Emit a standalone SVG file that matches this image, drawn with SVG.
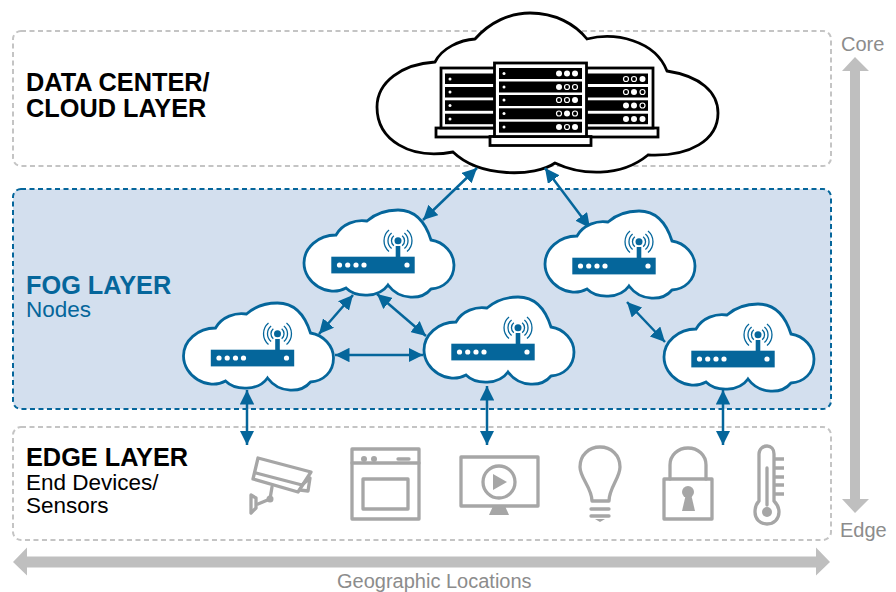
<svg xmlns="http://www.w3.org/2000/svg" width="896" height="592" viewBox="0 0 896 592">
<style>
text{font-family:"Liberation Sans",Arial,sans-serif}
.h{font-weight:bold;font-size:25.300px;fill:#000}
.s{font-size:22.500px;fill:#000}
.g{font-size:20px;fill:#8c8c8c}
.layer{stroke-width:2;stroke-dasharray:5 3.5}
.ln{fill:none;stroke:#a6a6a6;stroke-width:3.300;stroke-linejoin:round;stroke-linecap:round}
.fl{fill:#a6a6a6}
.conn{fill:none;stroke:#05669b;stroke-width:2.500;marker-start:url(#a);marker-end:url(#a)}
.cl{fill:#fff;stroke:#05669b;stroke-width:2.800}
.bar{fill:#000}
.on{fill:#fff}
.off{fill:#000;stroke:#fff;stroke-width:1.200}
</style>
<defs>
<marker id="a" markerUnits="userSpaceOnUse" markerWidth="14.500" markerHeight="14.500" refX="12" refY="6" orient="auto-start-reverse" viewBox="0 0 12 12"><path d="M0 0L12 6L0 12Z" fill="#05669b"/></marker>
<g id="fog">
<path class="cl" d="M32 25C38 14 52 9 63 11C72 3 84 0 94 0C112 0 122 14 127 30C140 32 150 43 150 55C150 69 140 78 127 79C118 90 96 91 84 75C75 88 52 88 42 78C24 88 0 73 0 53C0 38 14 25 32 25Z"/>
<rect x="27.300" y="46.700" width="83.400" height="16.700" fill="#05669b"/>
<rect x="91.700" y="36" width="4.600" height="11" fill="#05669b"/>
<circle cx="94" cy="30.700" r="3.500" fill="#05669b"/>
<g fill="#fff"><circle cx="35.500" cy="55" r="2.600"/><circle cx="43.700" cy="55" r="2.600"/><circle cx="52" cy="55" r="2.600"/><circle cx="60" cy="55" r="2.600"/><circle cx="103" cy="55" r="2.600"/></g>
<g fill="none" stroke="#05669b" stroke-width="1.300"><path d="M89.800 25.700A6.500 6.500 0 0 0 89.800 35.700"/><path d="M87.600 23A10 10 0 0 0 87.600 38.400"/><path d="M85 20A14 14 0 0 0 85 41.400"/><path d="M98.200 25.700A6.500 6.500 0 0 1 98.200 35.700"/><path d="M100.400 23A10 10 0 0 1 100.400 38.400"/><path d="M103 20A14 14 0 0 1 103 41.400"/></g>
</g>
</defs>
<rect class="layer" x="13" y="31" width="818" height="135" rx="8" fill="#fff" stroke="#c4c4c4"/>
<rect class="layer" x="13" y="189" width="818" height="220" rx="8" fill="#d3dfee" stroke="#05669b"/>
<rect class="layer" x="13" y="427" width="818" height="113" rx="8" fill="#fff" stroke="#c4c4c4"/>

<text class="h" x="26" y="91">DATA CENTER/</text>
<text class="h" x="26" y="117">CLOUD LAYER</text>
<text class="h" x="26" y="294" style="fill:#05669b">FOG LAYER</text>
<text class="s" x="26" y="317" style="fill:#05669b">Nodes</text>
<text class="h" x="26" y="466">EDGE LAYER</text>
<text class="s" x="26" y="489.500">End Devices/</text>
<text class="s" x="26" y="512.500">Sensors</text>

<g id="cloud-center">
<path d="M435 62C442 48 460 40 475 39C490 22 510 13 530 13C555 13 575 24 587 39C615 32 655 40 667 71C700 76 718 92 718 113C718 140 690 157 648 155C620 178 580 175 555 163C535 177 480 178 453 152C410 160 377 140 377 107C377 82 402 64 435 62Z" fill="#fff" stroke="#000" stroke-width="2.800"/>
<rect x="436" y="128" width="222" height="9" fill="#fff" stroke="#000" stroke-width="2.800"/>
<rect x="441" y="68" width="212" height="60" fill="#fff" stroke="#000" stroke-width="2.800"/>
<g class="bar"><rect x="445" y="73.500" width="203" height="10.500"/><rect x="445" y="87" width="203" height="10.500"/><rect x="445" y="100.300" width="203" height="10.500"/><rect x="445" y="113.700" width="203" height="10.500"/></g>
<g class="on"><circle cx="450" cy="79" r="1.500"/><circle cx="450" cy="92" r="1.500"/><circle cx="450" cy="105.500" r="1.500"/><circle cx="450" cy="119" r="1.500"/></g>
<rect x="490" y="136.500" width="101" height="9" fill="#fff" stroke="#000" stroke-width="2.800"/>
<rect x="494.500" y="63" width="92" height="73.500" fill="#fff" stroke="#000" stroke-width="2.800"/>
<g class="bar"><rect x="499" y="68" width="83" height="11"/><rect x="499" y="81.500" width="83" height="11"/><rect x="499" y="95" width="83" height="11"/><rect x="499" y="108.300" width="83" height="11"/><rect x="499" y="121.700" width="83" height="11"/></g>
<g class="on"><circle cx="504" cy="73.500" r="1.500"/><circle cx="504" cy="87" r="1.500"/><circle cx="504" cy="100" r="1.500"/><circle cx="504" cy="113.500" r="1.500"/><circle cx="504" cy="127" r="1.500"/>
<circle cx="559" cy="73.500" r="3"/><circle cx="567" cy="73.500" r="3"/><circle cx="575" cy="73.500" r="3"/><circle cx="559" cy="87" r="3"/><circle cx="575" cy="100" r="3"/><circle cx="567" cy="113.500" r="3"/><circle cx="559" cy="127" r="3"/><circle cx="575" cy="127" r="3"/>
<circle cx="642.500" cy="79" r="3"/><circle cx="634" cy="92" r="3"/><circle cx="626" cy="105.500" r="3"/><circle cx="634" cy="105.500" r="3"/><circle cx="626" cy="119" r="3"/><circle cx="634" cy="119" r="3"/><circle cx="642.500" cy="119" r="3"/></g>
<g class="off"><circle cx="567" cy="87" r="2.500"/><circle cx="575" cy="87" r="2.500"/><circle cx="559" cy="100" r="2.500"/><circle cx="567" cy="100" r="2.500"/><circle cx="559" cy="113.500" r="2.500"/><circle cx="575" cy="113.500" r="2.500"/><circle cx="567" cy="127" r="2.500"/>
<circle cx="626" cy="79" r="2.500"/><circle cx="634" cy="79" r="2.500"/><circle cx="626" cy="92" r="2.500"/><circle cx="642.500" cy="92" r="2.500"/><circle cx="642.500" cy="105.500" r="2.500"/></g>
</g>

<g id="connectors">
<path class="conn" d="M477 168L423 220"/>
<path class="conn" d="M545 168L590 228"/>
<path class="conn" d="M353 295L319 334"/>
<path class="conn" d="M377 294L426 336"/>
<path class="conn" d="M335 355L423 355"/>
<path class="conn" d="M247 390L247 445"/>
<path class="conn" d="M487 386L487 445"/>
<path class="conn" d="M723 390L723 445"/>
<path class="conn" d="M627 302L665 342"/>
</g>

<use id="fog-node-1" href="#fog" x="304" y="210"/>
<use id="fog-node-2" href="#fog" x="545" y="211"/>
<use id="fog-node-3" href="#fog" x="183.500" y="303"/>
<use id="fog-node-4" href="#fog" x="424" y="297"/>
<use id="fog-node-5" href="#fog" x="664" y="304"/>

<g id="camera"><path class="ln" d="M258 458L311 472L298 492L253 479Z"/><path class="ln" d="M256 473L302 485"/><path class="ln" d="M302 485L310 478L308 491L300 490"/><path class="ln" d="M272 487L270 499L258 504"/><circle class="fl" cx="270" cy="499" r="3.500"/><path class="ln" d="M251 495L256 498V508L251 513Z"/></g>
<g id="oven"><rect class="ln" x="352" y="449" width="67" height="70"/><path class="ln" d="M352 463H419"/><circle class="fl" cx="364" cy="459" r="3"/><circle class="fl" cx="374" cy="459" r="3"/><path class="ln" d="M398 459H409"/><rect class="ln" x="363" y="479" width="45" height="30"/></g>
<g id="monitor"><rect class="ln" x="461" y="457" width="77" height="49"/><circle class="ln" cx="499" cy="482" r="16"/><path class="fl" d="M493 474L507 482L493 490Z"/><path class="fl" d="M493 506H505L509 515H489Z"/></g>
<g id="bulb"><path class="ln" d="M592 501C592 488 580 478 580 467C580 455 589 447 600 447C611 447 620 455 620 467C620 478 609 488 609 501Z"/><path class="ln" d="M591 509H609M591 516H609"/><path class="fl" d="M595 519H605L600 522Z"/></g>
<g id="lock"><rect class="ln" x="664" y="479" width="48" height="40"/><path class="ln" d="M670 479V465C670 455 678 448 688 448C698 448 706 455 706 465V479"/><circle class="fl" cx="688" cy="492" r="6"/><path class="fl" d="M686 494H691L695 511H682Z"/></g>
<g id="thermometer"><path class="ln" d="M759 501V454C759 449 763 446 767 446C771 446 774 449 774 454V501C777 504 779 508 779 512C779 519 774 524 767 524C760 524 755 519 755 512C755 508 756 504 759 501Z"/><path class="ln" d="M767 468V505"/><circle class="fl" cx="767" cy="512" r="5"/><path class="ln" d="M775 459H784M775 468H784M775 477H784M775 485H784M775 494H784" style="stroke-linecap:butt"/></g>

<g id="axes" fill="#bfbfbf">
<path d="M13 562L27 547.500V556.500H816V547.500L830 562L816 575.500V567.500H27V575.500Z"/>
<path d="M855 57L869 71H860V499H869L855 513L842 499H850V71H842Z"/>
</g>
<text class="g" x="841" y="51">Core</text>
<text class="g" x="840" y="537">Edge</text>
<text class="g" x="337" y="587.500">Geographic Locations</text>
</svg>
